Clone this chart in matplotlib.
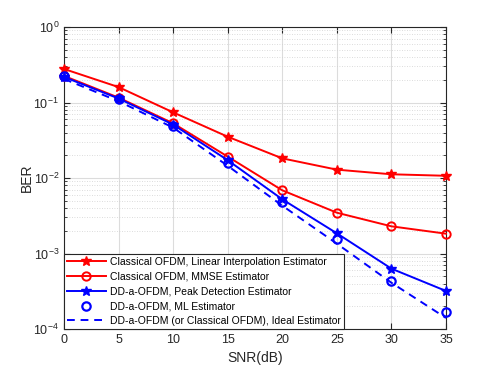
import matplotlib
matplotlib.use("Agg")
import matplotlib.pyplot as plt
from matplotlib.ticker import LogLocator, NullFormatter

plt.rcParams['font.family'] = ['Liberation Sans', 'DejaVu Sans']
plt.rcParams['mathtext.fontset'] = 'custom'
plt.rcParams['mathtext.rm'] = 'Liberation Sans'
plt.rcParams['mathtext.it'] = 'Liberation Sans'

snr = [0, 5, 10, 15, 20, 25, 30, 35]
ber_linear = [0.278, 0.160, 0.074, 0.0352, 0.0182, 0.0129, 0.0112, 0.0107]
ber_mmse = [0.225, 0.116, 0.053, 0.0192, 0.00687, 0.00347, 0.00229, 0.00183]
ber_peak = [0.218, 0.113, 0.0510, 0.0172, 0.00522, 0.00185, 0.00063, 0.000319]
ber_ml = [0.222, 0.112, 0.0495, 0.0160, 0.00476, 0.00156, 0.000428, 0.000168]
ber_ideal = [0.205, 0.104, 0.0465, 0.0145, 0.00430, 0.00135, 0.000410, 0.000140]

labels = ["Classical OFDM, Linear Interpolation Estimator",
          "Classical OFDM, MMSE Estimator",
          "DD-a-OFDM, Peak Detection Estimator",
          "DD-a-OFDM, ML Estimator",
          "DD-a-OFDM (or Classical OFDM), Ideal Estimator"]

fig = plt.figure(figsize=(4.93, 3.70), dpi=100)
ax = fig.add_axes([64/493, 1-329/370, (446-64)/493, (329-27)/370])

red = '#ff0000'
blue = '#0000ff'
ax.plot(snr, ber_linear, '-', color=red, lw=1.4, marker='*', ms=7.5, mfc=red, mec=red, mew=1.0,
        label=labels[0], clip_on=False, zorder=3)
ax.plot(snr, ber_mmse, '-', color=red, lw=1.4, marker='o', ms=6, mfc='none', mec=red, mew=1.4,
        label=labels[1], clip_on=False, zorder=3)
ax.plot(snr, ber_peak, '-', color=blue, lw=1.4, marker='*', ms=7.5, mfc=blue, mec=blue, mew=1.0,
        label=labels[2], clip_on=False, zorder=3)
ax.plot(snr, ber_ml, linestyle='none', marker='o', ms=6, mfc='none', mec=blue, mew=1.6,
        label=labels[3], clip_on=False, zorder=3)
ax.plot(snr, ber_ideal, '--', color=blue, lw=1.4, dashes=(4, 3), label=labels[4], zorder=3)

ax.set_yscale('log')
ax.set_xlim(0, 35)
ax.set_ylim(1e-4, 1)
ax.set_xticks(snr)
ax.yaxis.set_major_locator(LogLocator(base=10, numticks=10))
ax.yaxis.set_minor_locator(LogLocator(base=10, subs=range(2, 10), numticks=20))
ax.yaxis.set_minor_formatter(NullFormatter())

ax.grid(True, which='major', color='#dcdcdc', lw=0.8, ls='-')
ax.grid(True, which='minor', axis='y', color='#d0d0d0', lw=0.6, ls=(0, (1, 2)))
ax.set_axisbelow(True)

for s in ax.spines.values():
    s.set_color('#262626')
    s.set_linewidth(0.8)
ax.tick_params(which='both', direction='in', top=True, right=True, colors='#262626', labelsize=9)
ax.tick_params(which='major', length=4)
ax.tick_params(which='minor', length=2)

ax.set_xlabel('SNR(dB)', fontsize=10, color='#262626')
ax.set_ylabel('BER', fontsize=10, color='#262626', labelpad=0)

leg = ax.legend(loc='lower left', fontsize=7.5, frameon=True, fancybox=False,
                edgecolor='#262626', framealpha=1, borderaxespad=0,
                handlelength=3.7, handletextpad=0.4, labelspacing=0.45,
                borderpad=0.3)
leg.get_frame().set_linewidth(0.8)
leg.set_zorder(5)

fig.savefig('out.png', dpi=100)
